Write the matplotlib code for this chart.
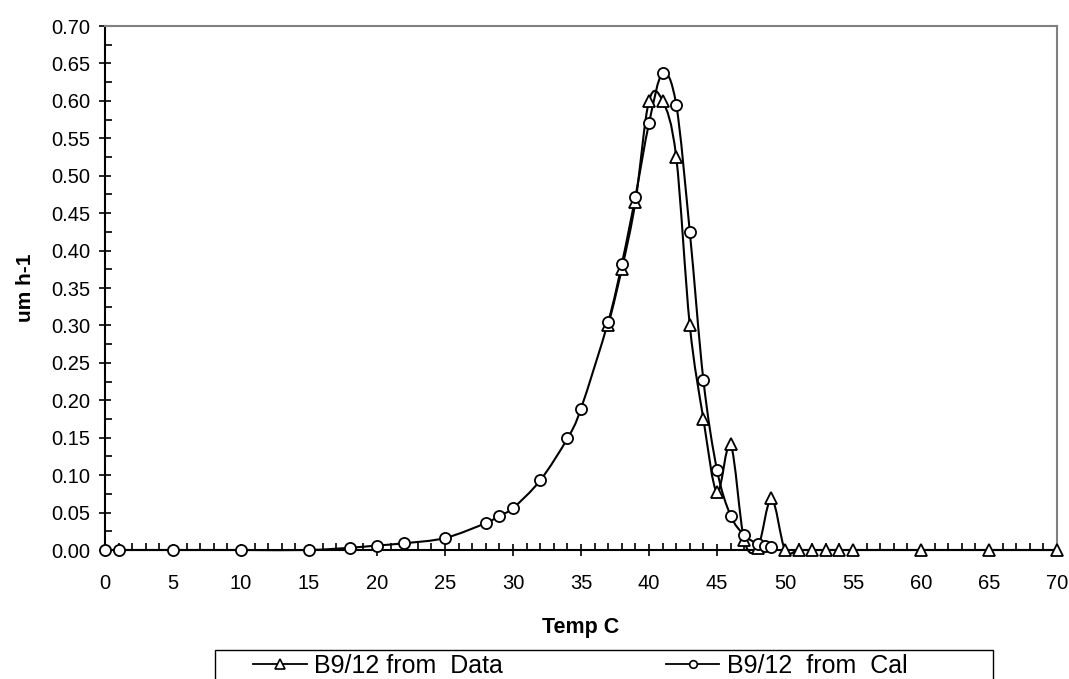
import numpy as np
import matplotlib
matplotlib.use('Agg')
from matplotlib import pyplot as plt
from matplotlib.path import Path
from matplotlib.patches import PathPatch, Rectangle
from matplotlib.lines import Line2D
from matplotlib.ticker import MultipleLocator, FormatStrFormatter

plt.rcParams['font.family'] = ['Liberation Sans', 'DejaVu Sans']

# Meetdata (driehoeken) en berekende curve (cirkels)
temp_data = [37, 38, 39, 40, 41, 42, 43, 44, 45, 46, 47, 48, 49,
             50, 51, 52, 53, 54, 55, 60, 65, 70]
rate_data = [0.300, 0.375, 0.465, 0.600, 0.600, 0.525, 0.300, 0.175, 0.077,
             0.141, 0.013, 0.003, 0.069, 0.0, 0.0, 0.0, 0.0, 0.0, 0.0,
             0.0, 0.0, 0.0]

temp_cal = [0, 1, 5, 10, 15, 18, 20, 22, 25, 28, 29, 30, 32, 34, 35, 37, 38,
            39, 40, 41, 42, 43, 44, 45, 46, 47, 48, 48.5, 49]
rate_cal = [0.0, 0.0, 0.0, 0.0, 0.0, 0.003, 0.006, 0.009, 0.016, 0.036,
            0.046, 0.056, 0.093, 0.149, 0.189, 0.305, 0.382, 0.472, 0.570,
            0.637, 0.595, 0.425, 0.227, 0.107, 0.046, 0.020, 0.008, 0.006,
            0.004]

label_data = 'B9/12 from  Data'
label_cal = 'B9/12  from  Cal'


def smooth_path(x, y):
    # Excel-achtige gladde lijn: Bezier-segmenten door de punten
    p = np.column_stack([x, y]).astype(float)
    n = len(p)
    verts = [p[0]]
    codes = [Path.MOVETO]
    for i in range(n - 1):
        p0 = p[i - 1] if i > 0 else p[i]
        p3 = p[i + 2] if i + 2 < n else p[i + 1]
        c1 = p[i] + (p[i + 1] - p0) / 6
        c2 = p[i + 1] - (p3 - p[i]) / 6
        verts += [c1, c2, p[i + 1]]
        codes += [Path.CURVE4] * 3
    return Path(verts, codes)


fig = plt.figure(figsize=(10.69, 6.79), dpi=100)
ax = fig.add_axes([105/1069, 1 - 550/679, (1057-105)/1069, (550-26)/679])

for xs, ys in [(temp_data, rate_data), (temp_cal, rate_cal)]:
    ax.add_patch(PathPatch(smooth_path(xs, ys), facecolor='none',
                           edgecolor='black', lw=1.5, zorder=3, clip_on=False))

ax.plot(temp_data, rate_data, ls='none', marker='^', ms=9, mfc='white',
        mec='black', mew=1.3, zorder=4, clip_on=False)
ax.plot(temp_cal, rate_cal, ls='none', marker='o', ms=8, mfc='white',
        mec='black', mew=1.3, zorder=5, clip_on=False)

ax.set_xlim(0, 70)
ax.set_ylim(0, 0.70)
ax.xaxis.set_major_locator(MultipleLocator(5))
ax.xaxis.set_minor_locator(MultipleLocator(1))
ax.yaxis.set_major_locator(MultipleLocator(0.05))
ax.yaxis.set_minor_locator(MultipleLocator(0.025))
ax.yaxis.set_major_formatter(FormatStrFormatter('%.2f'))
ax.tick_params(which='major', direction='inout', length=9, width=1.2,
               labelsize=14.5)
ax.tick_params(axis='x', which='major', pad=13)
ax.tick_params(axis='y', which='major', pad=6)
ax.tick_params(which='minor', direction='in', length=5, width=1.2)

ax.spines['left'].set_linewidth(1.5)
ax.spines['bottom'].set_linewidth(1.5)
ax.spines['top'].set_color('#808080')
ax.spines['right'].set_color('#808080')
ax.spines['top'].set_linewidth(1.5)
ax.spines['right'].set_linewidth(1.5)

ax.set_xlabel('Temp C', fontsize=15.5, fontweight='bold', labelpad=17)
ax.set_ylabel('um h-1', fontsize=15, fontweight='bold', labelpad=12)

# legenda-kader loopt door tot onder de rand van de figuur
fig.add_artist(Rectangle((215/1069, -0.05), (993-215)/1069, 29/679 + 0.05,
                         transform=fig.transFigure, facecolor='white',
                         edgecolor='black', lw=1.0))

handles = [Line2D([], [], color='black', lw=1.3, marker='^', ms=6.5,
                  mfc='white', mec='black', mew=1.2),
           Line2D([], [], color='black', lw=1.3, marker='o', ms=5.5,
                  mfc='white', mec='black', mew=1.2)]
leg = fig.legend(handles, [label_data, label_cal], loc='center left',
                 bbox_to_anchor=(253/1069, 1 - 666/679), ncol=2,
                 fontsize=18, frameon=False, handlelength=2.15,
                 handletextpad=0.3, columnspacing=6.5, borderpad=0,
                 borderaxespad=0)

fig.savefig('out.png', dpi=100)
plt.close(fig)
